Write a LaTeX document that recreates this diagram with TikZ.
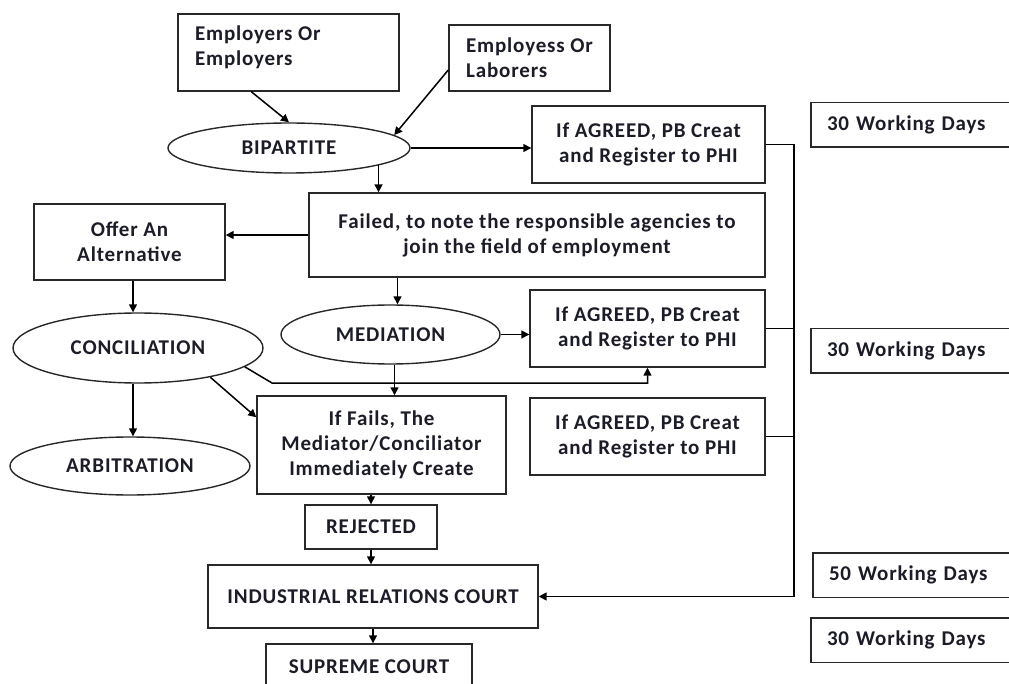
\documentclass[tikz,border=0pt]{standalone}
\usepackage{fontspec}
\setmainfont{Carlito}[LetterSpace=4]
\usetikzlibrary{shapes.geometric,arrows.meta,calc}
\definecolor{ink}{RGB}{28,28,40}
\definecolor{edge}{RGB}{40,40,40}
\begin{document}
\begin{tikzpicture}[x=1pt,y=-1pt,
  base/.style={font=\fontsize{21}{25}\selectfont\bfseries, text=ink},
  rbox/.style={base, draw=edge, line width=1.4pt, rectangle, inner sep=0pt, align=center},
  ebox/.style={base, draw=edge, line width=1.4pt, ellipse, inner sep=0pt},
  wdbox/.style={base, rectangle, inner sep=0pt, minimum width=244pt, minimum height=44pt, text width=212pt, align=left},
  openside/.style={draw=edge, line width=1.4pt, line join=miter},
  conn/.style={draw=black, line width=1.5pt},
  arr/.style={conn, -{Triangle[length=8pt,width=8pt]}}]
\useasboundingbox (0,0) rectangle (1009,684);
\begin{scope}
\clip (0,0) rectangle (1009,684);
% nodes
\node[rbox, minimum width=221pt, minimum height=77pt] (emp1) at (288.5,52.5)
  {\parbox[c][54pt][t]{187pt}{\raggedright Employers Or\\Employers}};
\node[rbox, minimum width=161pt, minimum height=66pt, align=left] (emp2) at (529.5,58)
  {Employess Or\\Laborers};
\node[ebox, minimum width=242pt, minimum height=50pt] (bip) at (289,148) {BIPARTITE};
\node[rbox, minimum width=233pt, minimum height=77pt] (a1) at (648.5,144.5) {If AGREED, PB Creat\\and Register to PHI};
\node[rbox, minimum width=456pt, minimum height=84pt] (fail) at (537,235)
  {Failed, to note the responsible agencies to\\join the field of employment};
\node[rbox, minimum width=191pt, minimum height=76pt] (offer) at (129.5,242) {Offer An\\Alternative};
\node[ebox, minimum width=250pt, minimum height=70pt] (conc) at (138,348) {CONCILIATION};
\node[ebox, minimum width=219pt, minimum height=59pt] (med) at (390.5,334.5) {MEDIATION};
\node[rbox, minimum width=235pt, minimum height=77pt] (a2) at (647.5,328.5) {If AGREED, PB Creat\\and Register to PHI};
\node[rbox, minimum width=249pt, minimum height=98pt] (fails) at (381.5,445)
  {If Fails, The\\Mediator/Conciliator\\Immediately Create};
\node[rbox, minimum width=235pt, minimum height=77pt] (a3) at (647.5,436.5) {If AGREED, PB Creat\\and Register to PHI};
\node[ebox, minimum width=240pt, minimum height=58pt] (arb) at (130,466) {ARBITRATION};
\node[rbox, minimum width=132pt, minimum height=44pt] (rej) at (371,527) {REJECTED};
\node[rbox, minimum width=330pt, minimum height=63pt] (ind) at (373,596.5) {INDUSTRIAL RELATIONS COURT};
\node[rbox, minimum width=206pt, minimum height=46pt] (sup) at (369,667) {SUPREME COURT};
\node[wdbox] (wd1) at (933,125) {30 Working Days};
\node[wdbox] (wd2) at (933,351) {30 Working Days};
\node[wdbox] (wd3) at (935,575) {50 Working Days};
\node[wdbox] (wd4) at (933,640) {30 Working Days};
\foreach \w in {wd1,wd2,wd3,wd4}
  \draw[openside] (\w.north east) -- (\w.north west) -- (\w.south west) -- (\w.south east);
% helper coordinates
\coordinate (bt) at (794,143);
\coordinate (mx) at ($(med.north)+(7,0)$);
\coordinate (my) at ($(med.south)+(4,0)$);
\coordinate (cx) at (133,0);
\coordinate (k1) at (272,383);
% connectors
\draw[arr] ([xshift=74pt]emp1.south west) -- (bip.north);
\draw[arr] ($(emp2.west)+(0,12)$) -- (bip.7);
\draw[arr] (bip.east) -- (bip.east -| a1.west);
\draw[arr] (bip.-11) -- (bip.-11 |- fail.north);
\draw[arr] (fail.west) -- (fail.west -| offer.east);
\draw[arr] (fail.south -| mx) -- (mx);
\draw[arr] (med.east) -- (med.east -| a2.west);
\draw[arr] (my) -- (my |- fails.north);
\draw[arr] (offer.south -| cx) -- (conc.north -| cx);
\draw[arr] (conc.south -| cx) -- (arb.north -| cx);
\draw[arr] (conc.-10) -- (k1) -| (a2.south);
\draw[arr] (conc.-22) -- ($(fails.north west)+(0,22)$);
\draw[arr] (fails.south -| rej.north) -- (rej.north);
\draw[arr] (rej.south) -- (rej.south |- ind.north);
\draw[arr] (ind.south) -- (ind.south |- sup.north);
\draw[arr] (a1.east) -- (a1.east -| bt) |- (ind.east);
\draw[conn] (a2.east) -- (a2.east -| bt);
\draw[conn] (a3.east) -- (a3.east -| bt);
\end{scope}
\end{tikzpicture}
\end{document}
